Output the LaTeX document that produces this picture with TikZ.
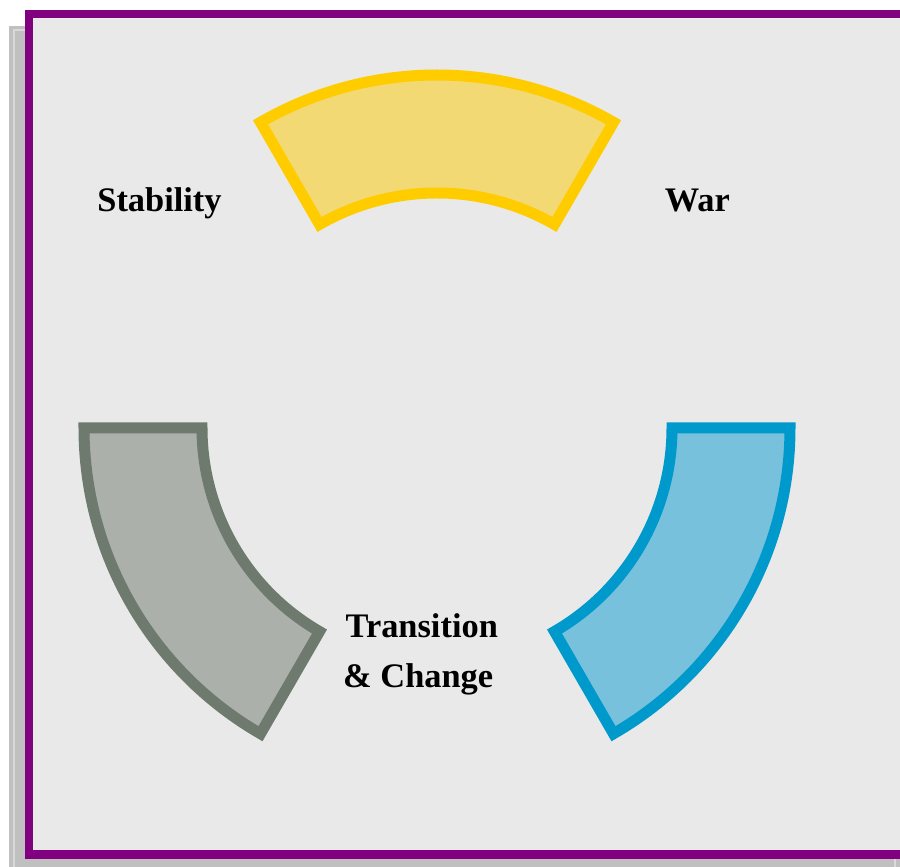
\documentclass[tikz,border=0pt]{standalone}
\usepackage{fontspec}
\setmainfont{Liberation Serif}
\definecolor{bgfill}{HTML}{E9E9E9}
\definecolor{frame}{HTML}{800080}
\definecolor{shadowfill}{HTML}{C0C0C0}
\definecolor{shadowline}{HTML}{D9D9D9}
\definecolor{ylwline}{HTML}{FFCC00}
\definecolor{ylwfill}{HTML}{F2D974}
\definecolor{gryline}{HTML}{6F7A6F}
\definecolor{gryfill}{HTML}{ABB0AB}
\definecolor{bluline}{HTML}{0099CC}
\definecolor{blufill}{HTML}{77C1DC}
\tikzset{
  sector/.style={line width=5.5pt, line join=miter},
  label/.style={font=\fontsize{17.2pt}{20pt}\selectfont\bfseries, inner sep=0pt, text=black}
}
\newcommand{\sectorpath}[2]{(#1:176.5pt) arc[start angle=#1, end angle=#2, radius=176.5pt] -- (#2:117.5pt) arc[start angle=#2, end angle=#1, radius=117.5pt] -- cycle}
\begin{document}
\begin{tikzpicture}
\useasboundingbox (0,0) rectangle (450pt,433.5pt);
% shadow
\fill[shadowfill] (4.5pt,-5pt) rectangle (460pt,420.5pt);
\draw[shadowline, line width=0.7pt] (7pt,-5pt) -- (7pt,418.5pt) -- (447.4pt,418.5pt) -- (447.4pt,-5pt);
% main panel
\draw[frame, fill=bgfill, line width=4.2pt] (14.6pt,6.3pt) rectangle (470pt,426.4pt);
% sectors
\begin{scope}[shift={(218.5pt,219.5pt)}]
  \draw[sector, draw=ylwline, fill=ylwfill] \sectorpath{60}{120};
  \draw[sector, draw=gryline, fill=gryfill] \sectorpath{180}{240};
  \draw[sector, draw=bluline, fill=blufill] \sectorpath{-60}{0};
\end{scope}
% labels
\node[label, anchor=base west] (stability) at (48.5pt,327.65pt) {Stability};
\node[label, anchor=base west] (war) at (332.2pt,327.65pt) {War};
\node[label, anchor=base west, align=left] (transition) at (171.4pt,89.5pt) {\hspace*{1.2pt}Transition\\[5.2pt]\& Change};
\end{tikzpicture}
\end{document}
